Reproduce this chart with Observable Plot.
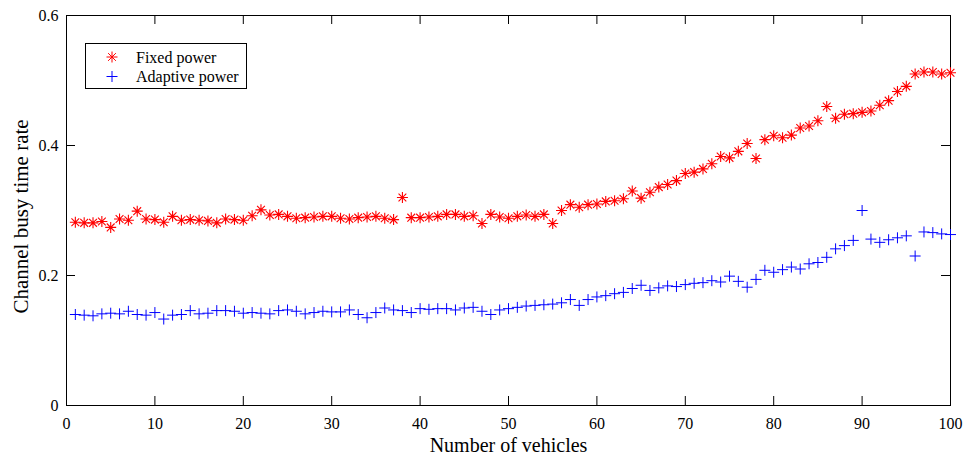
<!DOCTYPE html>
<html>
<head>
<meta charset="utf-8">
<script src="https://cdn.jsdelivr.net/npm/d3@7"></script>
<script src="https://cdn.jsdelivr.net/npm/@observablehq/plot@0.6"></script>
<style>
  html, body { margin: 0; padding: 0; background: #fff; }
  #wrap { position: relative; width: 974px; height: 458px; font-family: "Liberation Serif", "Times New Roman", serif; }
  #legend { position: absolute; left: 0; top: 0; pointer-events: none; }
</style>
</head>
<body>
<div id="wrap"></div>
<script>
// ---- data ----
const vehicles = d3.range(1, 101);
const fixedPower = [
  0.282,0.281,0.281,0.283,0.274,0.287,0.285,0.299,0.287,0.286,
  0.282,0.291,0.285,0.286,0.285,0.284,0.281,0.287,0.286,0.285,
  0.292,0.301,0.293,0.294,0.291,0.288,0.289,0.290,0.291,0.291,
  0.288,0.287,0.289,0.290,0.291,0.288,0.286,0.320,0.289,0.289,
  0.290,0.291,0.294,0.294,0.291,0.292,0.280,0.294,0.290,0.288,
  0.291,0.293,0.291,0.294,0.280,0.300,0.309,0.305,0.309,0.310,
  0.314,0.315,0.318,0.330,0.319,0.328,0.336,0.340,0.346,0.357,
  0.359,0.364,0.372,0.383,0.381,0.391,0.403,0.380,0.409,0.415,
  0.412,0.416,0.427,0.430,0.438,0.460,0.442,0.448,0.449,0.451,
  0.453,0.462,0.469,0.483,0.491,0.510,0.513,0.513,0.510,0.512
];
const adaptivePower = [
  0.140,0.139,0.138,0.141,0.142,0.141,0.145,0.140,0.139,0.143,
  0.133,0.139,0.140,0.146,0.141,0.142,0.146,0.146,0.145,0.142,
  0.143,0.142,0.141,0.146,0.147,0.145,0.141,0.143,0.145,0.144,
  0.144,0.147,0.140,0.135,0.143,0.150,0.147,0.146,0.143,0.149,
  0.148,0.149,0.149,0.147,0.150,0.151,0.145,0.140,0.147,0.149,
  0.151,0.153,0.154,0.155,0.156,0.158,0.163,0.154,0.163,0.167,
  0.169,0.172,0.174,0.180,0.185,0.177,0.181,0.184,0.183,0.186,
  0.188,0.189,0.192,0.190,0.199,0.191,0.182,0.194,0.208,0.205,
  0.209,0.213,0.210,0.218,0.220,0.228,0.241,0.246,0.254,0.300,
  0.256,0.251,0.255,0.258,0.261,0.230,0.267,0.266,0.264,0.263
];
const seriesNames = ["Fixed power", "Adaptive power"];
const seriesColors = ["#ff0000", "#0000ff"];
const xTicks = [0,10,20,30,40,50,60,70,80,90,100];
const yTicks = [0, 0.2, 0.4, 0.6];
const xLabel = "Number of vehicles";
const yLabel = "Channel busy time rate";

// ---- layout ----
const W = 974, H = 458;
const mL = 66, mR = 24, mT = 15, mB = 53;
const innerW = W - mL - mR, innerH = H - mT - mB;
const tickLen = 9;
const serif = "Liberation Serif, Times New Roman, serif";

// custom stroke symbols
const asteriskSym = { draw(ctx, size) {
  const r = Math.sqrt(size / Math.PI), d = r * Math.SQRT1_2;
  ctx.moveTo(-r, 0); ctx.lineTo(r, 0);
  ctx.moveTo(0, -r); ctx.lineTo(0, r);
  ctx.moveTo(-d, -d); ctx.lineTo(d, d);
  ctx.moveTo(-d, d); ctx.lineTo(d, -d);
}};
const plusSym = { draw(ctx, size) {
  const r = Math.sqrt(size / Math.PI);
  ctx.moveTo(-r, 0); ctx.lineTo(r, 0);
  ctx.moveTo(0, -r); ctx.lineTo(0, r);
}};

const fixedData = vehicles.map((v, i) => ({x: v, y: fixedPower[i]}));
const adaptiveData = vehicles.map((v, i) => ({x: v, y: adaptivePower[i]}));

const chart = Plot.plot({
  width: W, height: H,
  marginLeft: mL, marginRight: mR, marginTop: mT, marginBottom: mB,
  style: { fontFamily: serif, background: "#fff", color: "#000" },
  x: { domain: [0, 100], ticks: xTicks },
  y: { domain: [0, 0.6], ticks: yTicks },
  marks: [
    Plot.frame({ stroke: "#000", strokeWidth: 1 }),
    // inward ticks on all four sides
    Plot.tickX(xTicks, { x: d => d, insetTop: innerH - tickLen, stroke: "#000" }),
    Plot.tickX(xTicks, { x: d => d, insetBottom: innerH - tickLen, stroke: "#000" }),
    Plot.tickY(yTicks, { y: d => d, insetRight: innerW - tickLen, stroke: "#000" }),
    Plot.tickY(yTicks, { y: d => d, insetLeft: innerW - tickLen, stroke: "#000" }),
    Plot.axisX(xTicks, { tickSize: 0, tickPadding: 12, fontSize: 16, label: null, tickFormat: d => String(d) }),
    Plot.axisY(yTicks, { tickSize: 0, tickPadding: 8, fontSize: 16, label: null, tickFormat: d => String(d) }),
    Plot.text([xLabel], { text: d => d, frameAnchor: "bottom", textAnchor: "middle", dy: 40, fontSize: 20, lineAnchor: "middle", fill: "#000" }),
    Plot.text([yLabel], { text: d => d, frameAnchor: "left", textAnchor: "middle", dx: -45, dy: 6, rotate: -90, fontSize: 21, lineAnchor: "middle", fill: "#000" }),
    Plot.dot(fixedData, { x: "x", y: "y", symbol: asteriskSym, r: 5.5, stroke: seriesColors[0], fill: "none", strokeWidth: 1.1 }),
    Plot.dot(adaptiveData, { x: "x", y: "y", symbol: plusSym, r: 5.5, stroke: seriesColors[1], fill: "none", strokeWidth: 1 })
  ]
});
const wrap = document.getElementById("wrap");
wrap.appendChild(chart);

// ---- legend overlay ----
const ns = "http://www.w3.org/2000/svg";
const lg = document.createElementNS(ns, "svg");
lg.setAttribute("id", "legend");
lg.setAttribute("width", W); lg.setAttribute("height", H);
const box = document.createElementNS(ns, "rect");
box.setAttribute("x", 85.5); box.setAttribute("y", 43.5);
box.setAttribute("width", 161); box.setAttribute("height", 45);
box.setAttribute("fill", "#fff"); box.setAttribute("stroke", "#000");
lg.appendChild(box);
const sym = [asteriskSym, plusSym];
seriesNames.forEach((name, i) => {
  const cy = 57 + i * 19.5;
  const p = d3.path();
  sym[i].draw(p, Math.PI * 5.5 * 5.5);
  const path = document.createElementNS(ns, "path");
  path.setAttribute("d", p.toString());
  path.setAttribute("transform", `translate(112,${cy})`);
  path.setAttribute("stroke", seriesColors[i]); path.setAttribute("fill", "none");
  lg.appendChild(path);
  const t = document.createElementNS(ns, "text");
  t.setAttribute("x", 136); t.setAttribute("y", cy + 5.5);
  t.setAttribute("font-family", serif); t.setAttribute("font-size", 16);
  t.textContent = name;
  lg.appendChild(t);
});
wrap.appendChild(lg);
</script>
</body>
</html>
